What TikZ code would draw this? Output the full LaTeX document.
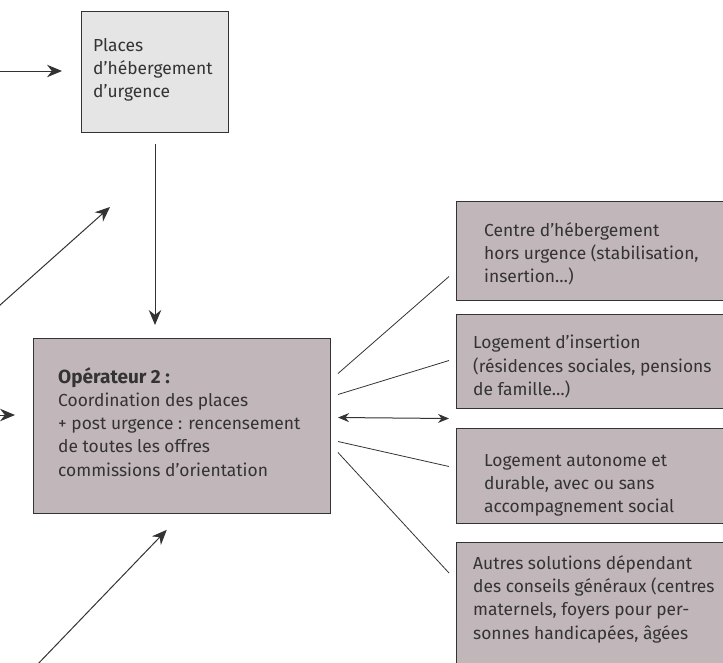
\documentclass[tikz,border=0pt]{standalone}
\usepackage{fontspec}
\setmainfont{Fira Sans}
\usetikzlibrary{arrows.meta,calc,positioning}
\definecolor{boitegris}{HTML}{E6E5E5}
\definecolor{boitemauve}{HTML}{C1B6B9}
\definecolor{trait}{HTML}{333333}
\begin{document}
\begin{tikzpicture}[x=1pt,y=-1pt,
    boite/.style={draw=trait, line width=1pt, rectangle, anchor=north west, inner sep=0pt},
    texte/.style={anchor=north west, align=left, inner sep=0pt, text=trait, font=\fontsize{17.4}{23.3}\selectfont},
    fleche/.style={draw=trait, line width=1pt, -{Stealth[length=15pt,width=12.5pt]}},
    doublefleche/.style={draw=trait, line width=1pt, {Stealth[length=11pt,width=9pt]}-{Stealth[length=11pt,width=9pt]}},
    lien/.style={draw=trait, line width=0.8pt}]
  \useasboundingbox (0,0) rectangle (723,662);

  \node[boite, fill=boitegris, minimum width=147pt, minimum height=121pt] (urgence) at (81,11) {};
  \node[boite, fill=boitemauve, minimum width=297pt, minimum height=175pt] (operateur) at (33,338) {};
  \node[boite, fill=boitemauve, minimum width=266.5pt, minimum height=99pt] (centre) at (456,201) {};
  \node[boite, fill=boitemauve, minimum width=266.5pt, minimum height=94pt] (insertion) at (456,314) {};
  \node[boite, fill=boitemauve, minimum width=266.5pt, minimum height=95pt] (autonome) at (456,428) {};
  \node[boite, fill=boitemauve, minimum width=266.5pt, minimum height=140pt] (autres) at (456,542) {};

  \node[texte] (turgence) at (93,38) {Places\\d’hébergement\\d’urgence};
  \node[texte] (toperateur) at (58,367) {{\fontsize{19}{23.3}\selectfont\bfseries Opérateur 2 :}\\Coordination des places\\+ post urgence : rencensement\\de toutes les offres\\commissions d’orientation};
  \node[texte] (tcentre) at (484,222) {Centre d’hébergement\\hors urgence (stabilisation,\\insertion…)};
  \node[texte] (tinsertion) at (473,335) {Logement d’insertion\\(résidences sociales, pensions\\de famille…)};
  \node[texte] (tautonome) at (484,454) {Logement autonome et\\durable, avec ou sans\\accompagnement social};
  \node[texte] (tautres) at (473,555) {Autres solutions dépendant\\des conseils généraux (centres\\maternels, foyers pour per-\\sonnes handicapées, âgées};

  \coordinate (gaucheA) at (-5,71);
  \coordinate (gaucheB) at (-10,314);
  \coordinate (hautB) at (110,207);
  \coordinate (gaucheC) at (-5,415);
  \coordinate (basD) at (35,667);

  \draw[fleche, shorten >=19pt] (gaucheA) -- (gaucheA -| urgence.west);
  \draw[fleche, shorten <=11pt, shorten >=13pt] (urgence.south) -- (urgence.south |- operateur.north);
  \draw[fleche] (gaucheB) -- (hautB);
  \draw[fleche, shorten >=18pt] (gaucheC) -- (gaucheC -| operateur.west);
  \draw[fleche, shorten >=22pt] (basD) -- (operateur.south);

  \draw[lien] ($(operateur.east)+(7,-52.5)$) -- ($(centre.west)+(-7,25.5)$);
  \draw[lien] ($(operateur.east)+(7,-31.5)$) -- ($(insertion.west)+(-7,-1)$);
  \draw[doublefleche] ($(operateur.east)+(7,-8.5)$) -- ($(insertion.south west)!.5!(autonome.north west)+(-7,0)$);
  \draw[lien] ($(operateur.east)+(7,15.5)$) -- ($(autonome.west)+(-7,-9.5)$);
  \draw[lien] ($(operateur.east)+(7,26.5)$) -- ($(autres.north west)+(-7,31)$);
\end{tikzpicture}
\end{document}
